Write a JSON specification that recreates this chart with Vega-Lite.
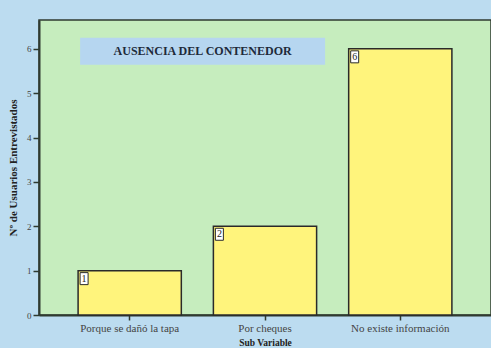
{
  "$schema": "https://vega.github.io/schema/vega-lite/v6.json",
  "width": 452,
  "height": 295,
  "autosize": {"type": "none"},
  "padding": {"left": 39, "top": 20, "right": 0, "bottom": 33},
  "background": "#bcdcf0",
  "view": {"fill": "#c6edbe", "stroke": "#2f3a30", "strokeWidth": 1.5},
  "config": {
    "font": "Liberation Serif",
    "axis": {"domainColor": "#2f3a30", "tickColor": "#2f3a30", "labelColor": "#444", "titleColor": "#222", "grid": false}
  },
  "datasets": {
    "bars": [
      {"motivo": "Porque se dañó la tapa", "usuarios": 1},
      {"motivo": "Por cheques", "usuarios": 2},
      {"motivo": "No existe información", "usuarios": 6}
    ],
    "banner": [
      {"x0": 0.091, "x1": 0.633, "y0": 5.64, "y1": 6.25, "xc": 0.362, "yc": 5.95, "texto": "AUSENCIA DEL CONTENEDOR"}
    ]
  },
  "layer": [
    {
      "data": {"name": "bars"},
      "layer": [
        {
          "mark": {"type": "bar", "fill": "#fff47c", "stroke": "#2a2a2a", "strokeWidth": 1.5},
          "encoding": {
            "x": {
              "field": "motivo", "type": "nominal", "sort": null,
              "scale": {"paddingInner": 0.237, "paddingOuter": 0.289},
              "axis": {"title": "Sub Variable", "titleFontSize": 9.5, "titleFontWeight": "bold", "titlePadding": 4, "labelAngle": 0, "labelFontSize": 11, "labelPadding": 2, "tickSize": 5, "domainWidth": 2, "tickWidth": 1.5}
            },
            "y": {
              "field": "usuarios", "type": "quantitative",
              "scale": {"domain": [0, 6.65], "nice": false},
              "axis": {"title": "Nº de Usuarios Entrevistados", "titleFontSize": 11, "titleFontWeight": "bold", "titlePadding": 8, "values": [0, 1, 2, 3, 4, 5, 6], "labelFontSize": 9, "tickSize": 6, "domainWidth": 2, "tickWidth": 1.5, "labelPadding": 2}
            }
          }
        },
        {
          "mark": {"type": "point", "shape": "M-1,-1.5L1,-1.5L1,1.5L-1,1.5Z", "size": 64, "filled": true, "fill": "#ffffff", "stroke": "#2a2a2a", "strokeWidth": 1, "opacity": 1, "xOffset": 6, "yOffset": 8},
          "encoding": {
            "x": {"field": "motivo", "type": "nominal", "sort": null, "bandPosition": 0},
            "y": {"field": "usuarios", "type": "quantitative"}
          }
        },
        {
          "mark": {"type": "text", "fontSize": 10, "color": "#222", "xOffset": 6, "yOffset": 8, "baseline": "middle", "align": "center"},
          "encoding": {
            "x": {"field": "motivo", "type": "nominal", "sort": null, "bandPosition": 0},
            "y": {"field": "usuarios", "type": "quantitative"},
            "text": {"field": "usuarios", "type": "quantitative"}
          }
        }
      ]
    },
    {
      "data": {"name": "banner"},
      "layer": [
        {
          "mark": {"type": "rect", "fill": "#b6d6f0"},
          "encoding": {
            "x": {"field": "x0", "type": "quantitative", "scale": {"domain": [0, 1], "nice": false}, "axis": null},
            "x2": {"field": "x1"},
            "y": {"field": "y0", "type": "quantitative"},
            "y2": {"field": "y1"}
          }
        },
        {
          "mark": {"type": "text", "fontSize": 12, "fontWeight": "bold", "color": "#1e2a3a", "baseline": "middle"},
          "encoding": {
            "x": {"field": "xc", "type": "quantitative", "scale": {"domain": [0, 1], "nice": false}, "axis": null},
            "y": {"field": "yc", "type": "quantitative"},
            "text": {"field": "texto"}
          }
        }
      ]
    }
  ],
  "resolve": {"scale": {"x": "independent"}}
}
